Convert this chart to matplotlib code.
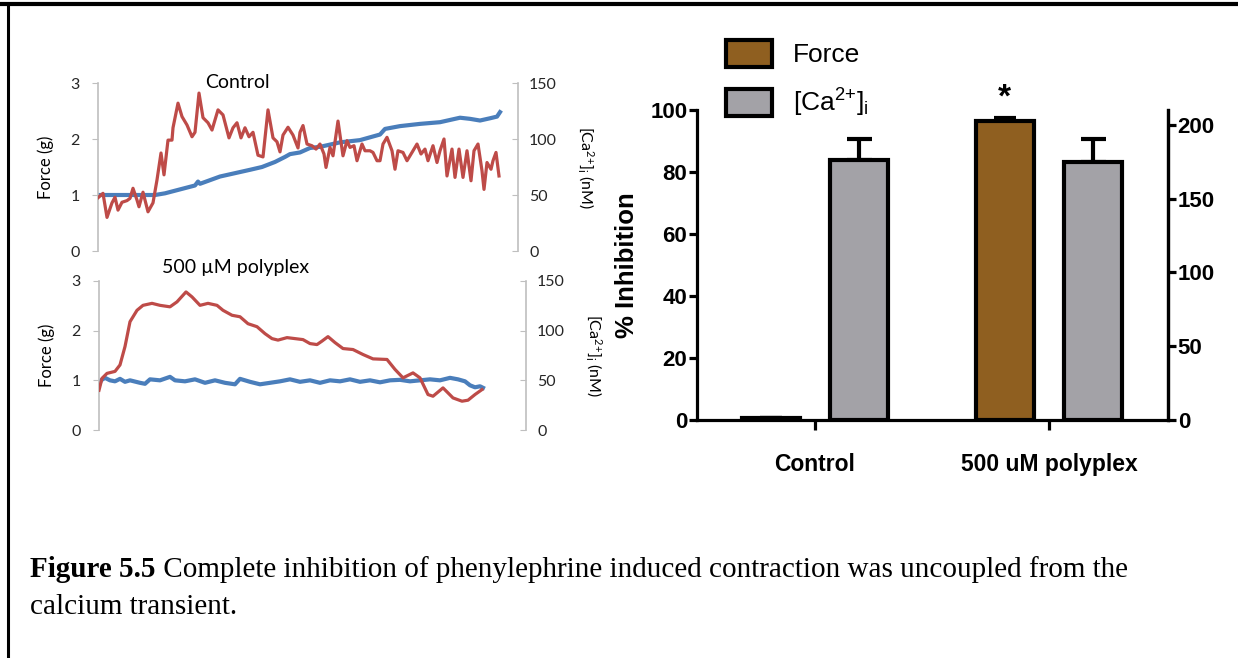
import numpy as np
import matplotlib.pyplot as plt
from matplotlib.lines import Line2D

plt.rcParams['mathtext.default'] = 'regular'

# ---- traces (x in arbitrary time units, force in g, Ca in nM) ----
t_ctrl_ca = [0, 5, 9, 14, 17, 20, 24, 29, 32, 35, 39, 41, 45, 50, 55, 59, 63, 66, 70, 74,
             75, 80, 84, 89, 94, 97, 101, 105, 110, 114, 120, 125, 131, 135, 139, 143, 147,
             151, 155, 160, 165, 170, 175, 179, 182, 185, 190, 195, 200, 202, 205, 209, 214,
             218, 222, 226, 228, 232, 235, 240, 245, 249, 252, 256, 259, 264, 267, 272, 275,
             279, 282, 285, 289, 294, 297, 300, 305, 309, 314, 319, 323, 327, 330, 335, 339,
             342, 346, 349, 354, 357, 361, 365, 369, 373, 376, 380, 384, 386, 389, 393, 395,
             398, 401]
ca_ctrl = [47.5, 51.5, 30, 43, 48, 36.5, 43.5, 45, 47, 56, 45.5, 39.5, 52.5, 35, 43, 63.5,
           87.5, 68, 99, 99, 110, 132, 120, 112.5, 102, 106, 141, 119, 114.5, 108, 126, 121.5,
           101, 110, 114.5, 101, 110, 102, 106, 85.5, 84, 126, 101, 97.5, 88.5, 103.5, 110.5,
           103.5, 92, 106, 112, 95.5, 94, 91, 95.5, 86.6, 74.6, 92.5, 85, 116, 85, 98.5, 92.5,
           94, 80.6, 95.5, 89.5, 89.5, 88, 80.6, 80.6, 95.5, 101.5, 89.5, 73, 89.5, 88, 80.6,
           88, 95.5, 86.6, 91, 80.6, 94, 79, 89.5, 100, 67, 91, 65.7, 91, 65.7, 89.5, 62.7,
           89.5, 95.5, 71.6, 55, 79, 73, 80.6, 88, 67]
t_ctrl_f = [0, 22, 42, 57, 67, 82, 97, 100, 102, 122, 152, 164, 177, 187, 192, 202, 212,
            222, 232, 242, 262, 282, 287, 302, 322, 342, 362, 372, 382, 392, 399, 402]
force_ctrl = [1.0, 1.0, 1.0, 1.0, 1.03, 1.1, 1.17, 1.24, 1.2, 1.33, 1.45, 1.5, 1.59, 1.68,
              1.73, 1.76, 1.84, 1.86, 1.9, 1.94, 1.98, 2.08, 2.18, 2.23, 2.27, 2.3, 2.38,
              2.36, 2.33, 2.37, 2.4, 2.48]

t_poly_ca = [0, 3, 8, 16, 21, 26, 31, 38, 44, 53, 61, 71, 78, 87, 93, 101, 109, 118, 124,
             133, 141, 149, 158, 166, 173, 179, 188, 196, 204, 211, 218, 223, 229, 236, 244,
             254, 264, 274, 288, 296, 304, 314, 321, 329, 334, 344, 354, 363, 369, 376, 383]
ca_poly = [40, 52, 57, 59, 65.5, 84, 109, 120.5, 125.5, 127.5, 125.5, 124, 129, 139, 134,
           125.5, 127.5, 125.5, 120.5, 115.5, 114, 107, 104, 97, 92, 90.5, 93, 92, 91, 87,
           86, 89.5, 94, 88, 82, 81, 76, 71.6, 71, 61, 52.5, 57.5, 52.5, 35.7, 34, 42.4,
           32.3, 29, 30, 35.7, 40.7]
t_poly_f = [0, 2, 6, 11, 16, 21, 26, 31, 41, 46, 51, 61, 71, 76, 86, 96, 106, 116, 126, 136,
            141, 151, 161, 171, 181, 191, 201, 211, 221, 231, 241, 251, 261, 271, 281, 291,
            301, 311, 321, 331, 341, 351, 359, 366, 371, 376, 381, 384]
force_poly = [0.9, 1.0, 1.05, 1.0, 0.98, 1.03, 0.97, 1.0, 0.95, 0.93, 1.02, 1.0, 1.07, 1.0,
              0.98, 1.02, 0.95, 1.0, 0.95, 0.92, 1.03, 0.97, 0.92, 0.95, 0.98, 1.02, 0.97,
              1.0, 0.95, 1.0, 0.98, 1.02, 0.97, 1.0, 0.96, 1.0, 1.01, 0.98, 1.0, 1.02, 1.0,
              1.05, 1.02, 0.98, 0.9, 0.86, 0.88, 0.85]

# ---- bar data (% inhibition) ----
groups = ['Control', '500 uM polyplex']
force_inh = [0.5, 96.5]
force_err = [0.3, 1.0]
ca_inh = [84.0, 83.2]
ca_err = [6.6, 7.4]

BLUE = '#4a7ebb'
RED = '#be4b48'
GREY_AX = '#bfbfbf'
BROWN = '#8f5f20'
GREY_BAR = '#a3a2a7'
CA_LABEL = '[Ca$^{2{+}}$]$_{i}$'

fig = plt.figure(figsize=(12.38, 6.58), dpi=100)
W, H = 1238., 658.


def px_axes(x0, x1, y_top, y_bot):
    return fig.add_axes([x0 / W, 1 - y_bot / H, (x1 - x0) / W, (y_bot - y_top) / H])


def trace_panel(ax, tf, f, tc, c, xmax, title, title_xy):
    ax.plot(tf, f, color=BLUE, lw=3, zorder=2)
    ax.set_xlim(0, xmax)
    ax.set_ylim(0, 3)
    ax.set_yticks([0, 1, 2, 3])
    ax.set_xticks([])
    for s in ['top', 'right', 'bottom']:
        ax.spines[s].set_visible(False)
    ax.spines['left'].set_color(GREY_AX)
    ax.spines['left'].set_linewidth(1.2)
    ax.tick_params(axis='y', colors=GREY_AX, labelcolor='#262626', length=4, labelsize=11.5, pad=9)
    for lab in ax.get_yticklabels():
        lab.set_family('Lato')
    ax.set_ylabel('Force (g)', family='Lato', fontsize=12, labelpad=12)
    ax2 = ax.twinx()
    ax2.plot(tc, c, color=RED, lw=2.3, zorder=3)
    ax2.set_ylim(0, 150)
    ax2.set_yticks([0, 50, 100, 150])
    for s in ['top', 'left', 'bottom']:
        ax2.spines[s].set_visible(False)
    ax2.spines['right'].set_color(GREY_AX)
    ax2.spines['right'].set_linewidth(1.2)
    ax2.tick_params(axis='y', colors=GREY_AX, labelcolor='#262626', length=4, direction='in',
                    labelsize=11.5, pad=8)
    for lab in ax2.get_yticklabels():
        lab.set_family('Lato')
    ax2.set_ylabel(CA_LABEL + ' (nM)', family='Lato', fontsize=11.5, rotation=-90, labelpad=28)
    fig.text(title_xy[0] / W, 1 - title_xy[1] / H, title, family='Lato', fontsize=14,
             ha='center', va='center')


ax_top = px_axes(98, 518, 83, 251)
trace_panel(ax_top, t_ctrl_f, force_ctrl, t_ctrl_ca, ca_ctrl, 420, 'Control', (237, 82))
ax_bot = px_axes(99, 526, 281, 430)
trace_panel(ax_bot, t_poly_f, force_poly, t_poly_ca, ca_poly, 427, '500 µM polyplex', (236, 268))

# ---- bar chart ----
axb = px_axes(697, 1168, 110, 420)
x = np.arange(len(groups))
off, w = 0.188, 0.245
b1 = axb.bar(x - off, force_inh, w, color=BROWN, edgecolor='black', linewidth=3, zorder=3,
             label='Force')
b2 = axb.bar(x + off, ca_inh, w, color=GREY_BAR, edgecolor='black', linewidth=3, zorder=3,
             label=CA_LABEL)
axb.errorbar(x - off, force_inh, yerr=[[0, 0], force_err], fmt='none', ecolor='black',
             elinewidth=3, capsize=8, capthick=3, zorder=2)
axb.errorbar(x + off, ca_inh, yerr=[[0, 0], ca_err], fmt='none', ecolor='black',
             elinewidth=3, capsize=9, capthick=3, zorder=2)
axb.set_xlim(-0.504, 1.509)
axb.set_ylim(0, 100)
axb.set_yticks([0, 20, 40, 60, 80, 100])
axb.set_xticks(x)
axb.set_xticklabels(groups, family='Liberation Sans', fontsize=16.5, fontweight='bold')
axb.spines['top'].set_visible(False)
for s in ['left', 'bottom', 'right']:
    axb.spines[s].set_linewidth(2.3)
axb.tick_params(axis='y', width=2.3, length=6, labelsize=16, pad=1)
axb.tick_params(axis='x', width=2.3, length=7, pad=17)
for lab in axb.get_yticklabels():
    lab.set_family('Liberation Sans')
    lab.set_fontweight('bold')
axb.set_ylabel('% Inhibition', family='Liberation Sans', fontsize=18.5, fontweight='bold',
               labelpad=8)
axb.text(x[1] - off, force_inh[1] + force_err[1] + 1.2, '*', ha='center', va='bottom',
         fontsize=24, fontweight='bold', family='Liberation Sans')

axr = axb.twinx()
axr.set_ylim(0, 210)
axr.set_yticks([0, 50, 100, 150, 200])
axr.spines['top'].set_visible(False)
axr.spines['left'].set_visible(False)
axr.spines['bottom'].set_visible(False)
axr.spines['right'].set_linewidth(2.3)
axr.tick_params(axis='y', width=2.3, length=6, labelsize=16, pad=1)
for lab in axr.get_yticklabels():
    lab.set_family('Liberation Sans')
    lab.set_fontweight('bold')

fig.legend(handles=[b1, b2], loc='upper left', bbox_to_anchor=(702 / W, 1 - 16 / H),
           frameon=False, prop={'family': 'Liberation Sans', 'size': 19},
           handlelength=1.75, handleheight=1.2, labelspacing=0.75, handletextpad=0.8)

# ---- caption ----
cap = fig.text(30 / W, 1 - 583 / H, 'Figure 5.5', family='Liberation Serif', fontsize=21,
               fontweight='bold', va='bottom')
axr.annotate(' Complete inhibition of phenylephrine induced contraction was uncoupled from the',
             xy=(1, 0), xycoords=cap, va='bottom', ha='left',
             family='Liberation Serif', fontsize=21, annotation_clip=False)
fig.text(30 / W, 1 - 620 / H, 'calcium transient.', family='Liberation Serif', fontsize=21,
         va='bottom')

# page border
fig.add_artist(Line2D([0, 1], [1 - 4 / H, 1 - 4 / H], color='black', lw=3))
fig.add_artist(Line2D([8 / W, 8 / W], [0, 1 - 4 / H], color='black', lw=2.2))

fig.savefig('out.png', dpi=100)
